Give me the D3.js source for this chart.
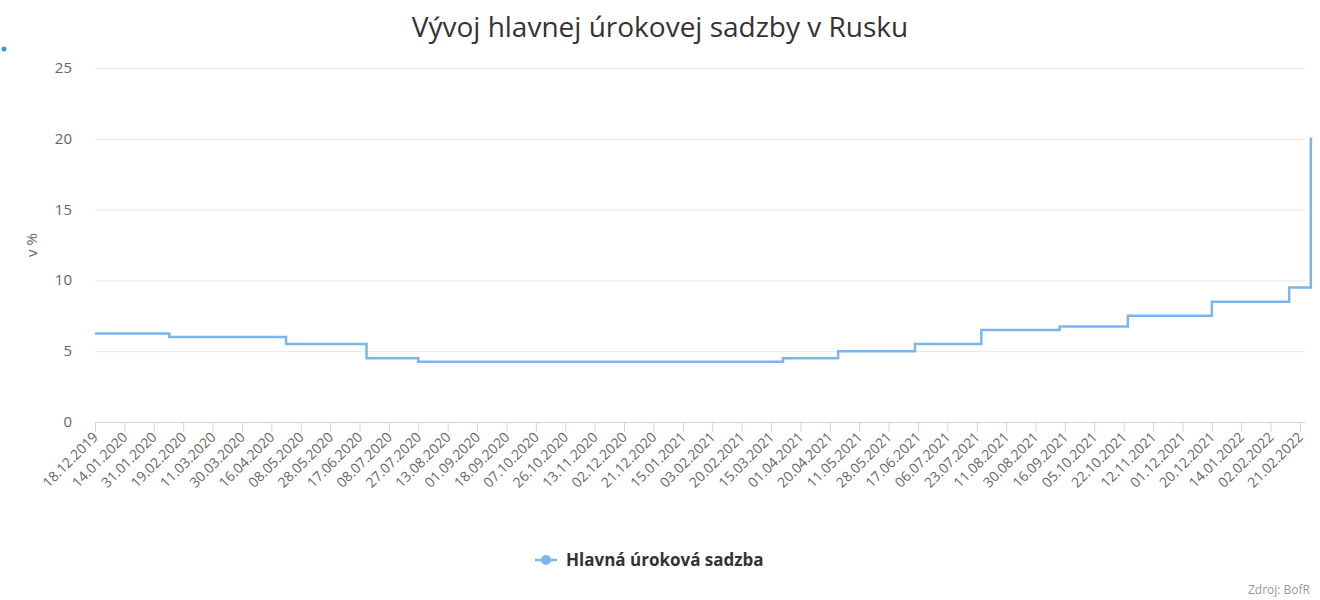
<!DOCTYPE html>
<html>
<head>
<meta charset="utf-8">
<script src="https://cdn.jsdelivr.net/npm/d3@7"></script>
<style>
  body { margin: 0; background: #fff; font-family: "Open Sans", "DejaVu Sans", sans-serif; }
</style>
</head>
<body>
<svg id="chart" width="1320" height="600"></svg>
<script>
// tick labels on the category axis (business-day dates)
var tickLabels = ["18.12.2019","14.01.2020","31.01.2020","19.02.2020","11.03.2020","30.03.2020",
  "16.04.2020","08.05.2020","28.05.2020","17.06.2020","08.07.2020","27.07.2020","13.08.2020",
  "01.09.2020","18.09.2020","07.10.2020","26.10.2020","13.11.2020","02.12.2020","21.12.2020",
  "15.01.2021","03.02.2021","20.02.2021","15.03.2021","01.04.2021","20.04.2021","11.05.2021",
  "28.05.2021","17.06.2021","06.07.2021","23.07.2021","11.08.2021","30.08.2021","16.09.2021",
  "05.10.2021","22.10.2021","12.11.2021","01.12.2021","20.12.2021","14.01.2022","02.02.2022",
  "21.02.2022"];

// dates when the key rate changed and the new rate
var changeDates = ["18.12.2019","10.02.2020","27.04.2020","22.06.2020","27.07.2020","22.03.2021",
  "26.04.2021","15.06.2021","26.07.2021","13.09.2021","25.10.2021","20.12.2021","14.02.2022",
  "28.02.2022"];
var rates = [6.25, 6.0, 5.5, 4.5, 4.25, 4.5, 5.0, 5.5, 6.5, 6.75, 7.5, 8.5, 9.5, 20];
var yTicks = [0, 5, 10, 15, 20, 25];

var parse = d3.timeParse("%d.%m.%Y");
var svg = d3.select("#chart");
var plotLeft = 95, plotRight = 1300, plotTop = 68, plotBottom = 422;

var tickDates = tickLabels.map(parse);
var x = d3.scaleTime()
  .domain(tickDates)
  .range(tickDates.map(function (d, i) { return plotLeft + i * (plotRight - plotLeft) / (tickDates.length - 1); }));
var y = d3.scaleLinear().domain([0, 25]).range([plotBottom, plotTop]);

// grid
svg.append("g").selectAll("line").data(yTicks).enter().append("line")
  .attr("x1", plotLeft).attr("x2", 1305)
  .attr("y1", function (d) { return y(d) + 0.5; }).attr("y2", function (d) { return y(d) + 0.5; })
  .attr("stroke", function (d) { return d === 0 ? "#ccd6eb" : "#e6e6e6"; });

svg.append("g").selectAll("text").data(yTicks).enter().append("text")
  .attr("x", 72).attr("y", function (d) { return y(d) + 5; })
  .attr("text-anchor", "end").attr("font-size", 15).attr("fill", "#666")
  .text(function (d) { return d; });

// x ticks + labels
var xg = svg.append("g");
xg.selectAll("line").data(tickDates).enter().append("line")
  .attr("x1", function (d) { return x(d) + 0.5; }).attr("x2", function (d) { return x(d) + 0.5; })
  .attr("y1", plotBottom).attr("y2", plotBottom + 10).attr("stroke", "#ccd6eb");
xg.selectAll("text").data(tickLabels).enter().append("text")
  .attr("transform", function (d, i) { return "translate(" + (x(tickDates[i]) + 4) + "," + (plotBottom + 16) + ") rotate(-45)"; })
  .attr("text-anchor", "end").attr("font-size", 14).attr("fill", "#666")
  .text(function (d) { return d; });

// step line
var pts = changeDates.map(function (d, i) { return [parse(d), rates[i]]; });
pts.push([parse("01.03.2022"), 20]);
var line = d3.line().x(function (d) { return x(d[0]); }).y(function (d) { return y(d[1]); }).curve(d3.curveStepAfter);
svg.append("path").datum(pts).attr("d", line)
  .attr("fill", "none").attr("stroke", "#7cb5ec").attr("stroke-width", 2.5);

// title
svg.append("text").attr("x", 660).attr("y", 37).attr("text-anchor", "middle")
  .attr("font-size", 28).attr("fill", "#333").text("Vývoj hlavnej úrokovej sadzby v Rusku");

svg.append("text").attr("transform", "translate(37,245) rotate(-90)")
  .attr("text-anchor", "middle").attr("font-size", 15).attr("fill", "#666").text("v %");

svg.append("circle").attr("cx", 4).attr("cy", 49).attr("r", 2.5).attr("fill", "#2a9fd6");

// legend
var lg = svg.append("g");
lg.append("line").attr("x1", 535).attr("x2", 557).attr("y1", 560).attr("y2", 560)
  .attr("stroke", "#7cb5ec").attr("stroke-width", 2.5);
lg.append("circle").attr("cx", 546).attr("cy", 560).attr("r", 5).attr("fill", "#7cb5ec");
lg.append("text").attr("x", 566).attr("y", 566).attr("font-size", 17).attr("font-weight", "bold")
  .attr("fill", "#333").text("Hlavná úroková sadzba");

svg.append("text").attr("x", 1310).attr("y", 594).attr("text-anchor", "end")
  .attr("font-size", 12).attr("fill", "#999").text("Zdroj: BofR");
</script>
</body>
</html>
